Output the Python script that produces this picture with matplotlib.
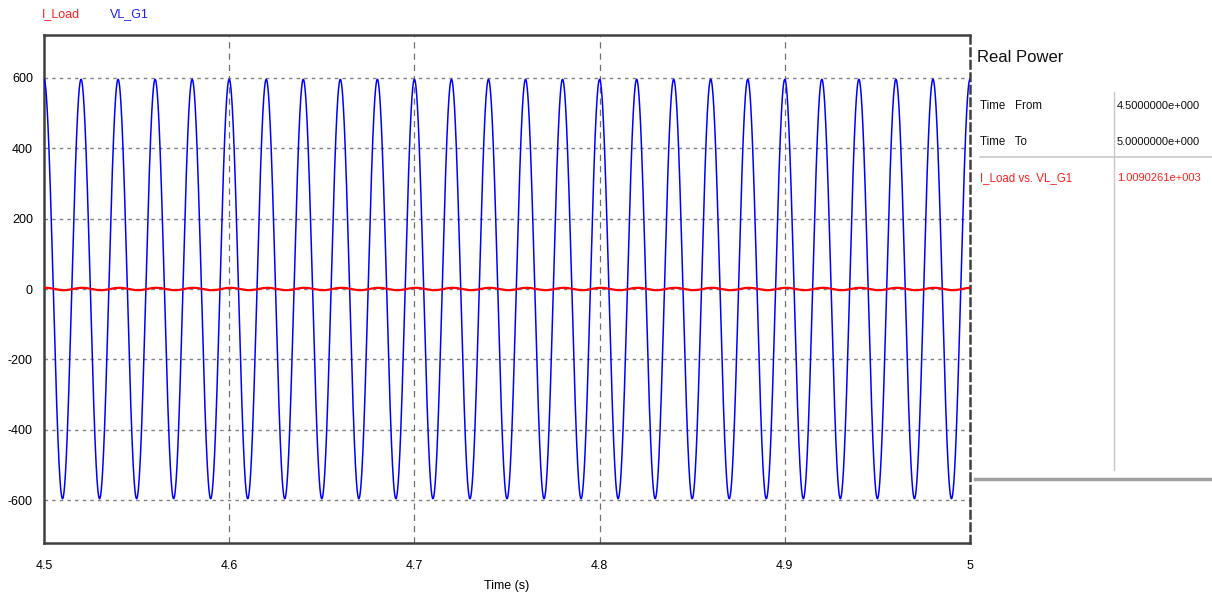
import numpy as np
import matplotlib
matplotlib.use("Agg")
import matplotlib.pyplot as plt

plt.rcParams['font.family'] = ['Liberation Sans Narrow', 'Liberation Sans', 'DejaVu Sans']

# ---- data ----
t_start, t_end = 4.5, 5.0
freq_hz = 50.0
v_amplitude = 596.0          # VL_G1 peak
v_phase_deg = 0.0            # cosine, peak at 4.5 s
i_amplitude = 3.4            # I_Load peak (tiny on this scale)
i_phase_deg = -12.0
y_ticks = [-600, -400, -200, 0, 200, 400, 600]
x_ticks = [4.5, 4.6, 4.7, 4.8, 4.9, 5.0]
x_tick_labels = ["4.5", "4.6", "4.7", "4.8", "4.9", "5"]
series_names = ["I_Load", "VL_G1"]
table_rows = [("Time   From", "4.5000000e+000"),
              ("Time   To", "5.0000000e+000"),
              ("I_Load vs. VL_G1", "1.0090261e+003")]
panel_title = "Real Power"

t = np.linspace(t_start, t_end, 20001)
vl = v_amplitude * np.cos(2 * np.pi * freq_hz * t + np.deg2rad(v_phase_deg))
il = i_amplitude * np.cos(2 * np.pi * freq_hz * t + np.deg2rad(i_phase_deg))

fig = plt.figure(figsize=(12.12, 6.02), dpi=100)
ax = fig.add_axes([44/1212, 1-543/602, (970-44)/1212, (543-35)/602])

ax.plot(t, vl, color='#0000ff', lw=1.1, zorder=3)
ax.plot(t, il, color='#ff0000', lw=1.6, zorder=4)

ax.set_xlim(t_start, t_end)
ax.set_ylim(-722, 722)
ax.set_yticks(y_ticks)
ax.set_yticklabels([str(v) for v in y_ticks])
ax.set_xticks(x_ticks)
ax.set_xticklabels(x_tick_labels)
ax.tick_params(length=0, labelsize=9, pad=8)
ax.tick_params(axis='x', pad=12)

for yv in y_ticks:
    ax.axhline(yv, color='#808080', lw=1.0, ls=(0, (2.5, 3)), zorder=1)
for xv in x_ticks[1:-1]:
    ax.axvline(xv, color='#707070', lw=0.9, ls=(0, (5, 4)), zorder=1)

for s in ['left', 'bottom', 'top']:
    ax.spines[s].set_color('#404040')
    ax.spines[s].set_linewidth(1.8)
ax.spines['right'].set_color('#404040')
ax.spines['right'].set_linewidth(1.8)
ax.spines['right'].set_linestyle((0, (3, 2)))

ax.set_xlabel("Time (s)", fontsize=9, labelpad=6)

# legend texts on top
fig.text(42/1212, 1-14/602, series_names[0], color='#ff2020', fontsize=9, va='center', ha='left')
fig.text(110/1212, 1-14/602, series_names[1], color='#2020ff', fontsize=9, va='center', ha='left')

# right panel
W, H = 1212, 602
def fx(x): return x / W
def fy(y): return 1 - y / H

fig.text(fx(977), fy(58), panel_title, fontsize=12, va='center', ha='left', color='#101010')
row_y = [106, 142, 178]
for (lab, val), yy in zip(table_rows, row_y):
    col = '#ff2020' if 'vs.' in lab else '#101010'
    fig.text(fx(980), fy(yy), lab, fontsize=8.3, va='center', ha='left', color=col)
    fig.text(fx(1117), fy(yy), val, fontsize=8.0, va='center', ha='left', color=col)

lines = [
    ([fx(1114), fx(1114)], [fy(92), fy(470)], '#c8c8c8', 1.0),
    ([fx(980), fx(1212)], [fy(157), fy(157)], '#c8c8c8', 1.2),
    ([fx(975), fx(1212)], [fy(479), fy(479)], '#a0a0a0', 2.5),
]
for xs, ys, c, lw in lines:
    fig.add_artist(plt.Line2D(xs, ys, color=c, lw=lw, transform=fig.transFigure))

fig.savefig("out.png", dpi=100)
